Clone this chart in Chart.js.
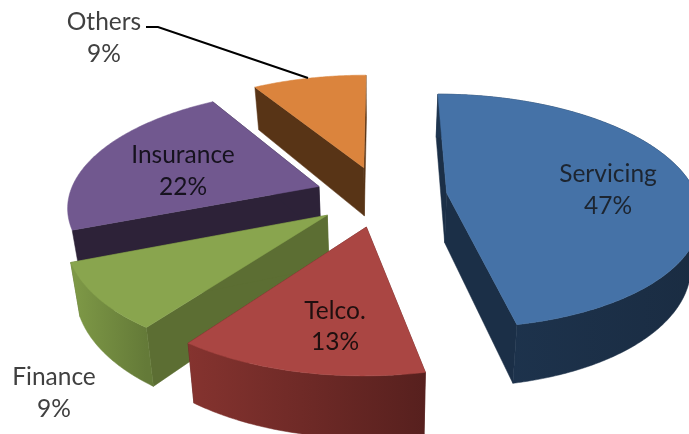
<!DOCTYPE html>
<html>
<head>
<meta charset="utf-8">
<script src="https://cdn.jsdelivr.net/npm/chart.js@4"></script>
<style>html,body{margin:0;padding:0;background:#fff}canvas{display:block}</style>
</head>
<body>
<canvas id="c" width="689" height="434"></canvas>
<script>
const categories = ['Servicing', 'Telco.', 'Finance', 'Insurance', 'Others'];
const shares = [46.8, 13.2, 9, 22.3, 8.7];

const topColors = ['#4572A7', '#AA4643', '#89A54E', '#71588F', '#DB843D'];
const cutColors = ['#1B2F47', '#5A2220', '#5C6E33', '#2D2238', '#583416'];
const wallStart = ['#1E3550', '#85332F', '#7F9A47', '#2D2238', '#583416'];
const wallEnd   = ['#1A2C42', '#57201E', '#647A38', '#2D2238', '#583416'];
const wallShown = [true, true, true, false, false];
const paintOrder = [4, 0, 3, 2, 1];

const labelAnchors = [[608,174,32,'#1d2530'],[335,311,31,'#1f0f0f'],[54,377,32,'#404040'],[183,155,32,'#16121e'],[104,22,32,'#404040']];

const view = {cx:381, cy:196, explode:.265, persp:.155, a:250, b:115, depth:50, converge:.03};

function project(u, v, drop) {
  const w = 1 - view.persp * v;
  const shrink = 1 - view.converge * drop / view.depth;
  return [view.cx + view.a * u * shrink / w, view.cy + (view.b * v + drop) / w];
}

const solidPie = {
  id: 'solidPie',
  beforeDatasetsDraw(chart) {
    const ctx = chart.ctx;
    const arcs = chart.getDatasetMeta(0).data;
    const poly = (pts, fill) => {
      ctx.beginPath();
      pts.forEach((p, i) => i ? ctx.lineTo(p[0], p[1]) : ctx.moveTo(p[0], p[1]));
      ctx.closePath();
      ctx.fillStyle = fill; ctx.strokeStyle = fill; ctx.lineWidth = .5;
      ctx.fill(); ctx.stroke();
    };
    paintOrder.forEach(i => {
      const el = arcs[i];
      const s = el.startAngle, e = el.endAngle, m = (s + e) / 2;
      const ou = view.explode * Math.cos(m), ov = view.explode * Math.sin(m);
      const steps = Math.max(2, Math.round((e - s) / 0.01));
      const rim = [];
      for (let k = 0; k <= steps; k++) {
        const t = s + (e - s) * k / steps;
        rim.push([ou + Math.cos(t), ov + Math.sin(t)]);
      }
      const up = (q) => project(q[0], q[1], 0);
      const dn = (q) => project(q[0], q[1], view.depth);
      const apex = [ou, ov];
      const first = rim[0], last = rim[rim.length - 1];
      poly([up(apex), up(first), dn(first), dn(apex)], cutColors[i]);
      poly([up(apex), up(last), dn(last), dn(apex)], cutColors[i]);
      const topRim = rim.map(up), lowRim = rim.map(dn);
      if (wallShown[i]) {
        const xs = topRim.map(p => p[0]);
        const g = ctx.createLinearGradient(Math.min(...xs), 0, Math.max(...xs), 0);
        g.addColorStop(0, wallStart[i]); g.addColorStop(1, wallEnd[i]);
        poly(topRim.concat(lowRim.reverse()), g);
      }
      poly([up(apex)].concat(topRim), el.options.backgroundColor);
    });
    return false;
  },
  afterDraw(chart) {
    const ctx = chart.ctx;
    ctx.save();
    ctx.strokeStyle = '#000'; ctx.lineWidth = 2;
    ctx.beginPath(); ctx.moveTo(146,27); ctx.lineTo(158,27); ctx.lineTo(308,78); ctx.stroke();
    ctx.textAlign = 'center'; ctx.textBaseline = 'middle';
    ctx.font = '24.5px Lato, sans-serif';
    categories.forEach((name, i) => {
      const [x, y, gap, col] = labelAnchors[i];
      ctx.fillStyle = col;
      ctx.fillText(name, x, y);
      ctx.fillText(Math.round(shares[i]) + '%', x, y + gap);
    });
    ctx.restore();
  }
};

new Chart(document.getElementById('c'), {
  type: 'pie',
  data: { labels: categories, datasets: [{ data: shares, backgroundColor: topColors, borderWidth: 0 }] },
  options: {
    responsive: false, animation: false, rotation: 0,
    plugins: { legend: { display: false }, tooltip: { enabled: false } }
  },
  plugins: [solidPie]
});
</script>
</body>
</html>
